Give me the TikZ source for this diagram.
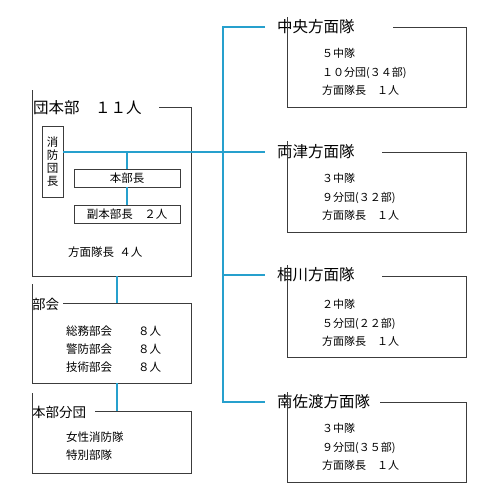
\documentclass[tikz,border=0pt]{standalone}
\usepackage{fontspec}
\newfontfamily\jp{Noto Sans CJK JP}
\usetikzlibrary{calc}
\definecolor{lnblue}{RGB}{38,160,205}
\definecolor{lngray}{RGB}{60,60,60}
\begin{document}
\begin{tikzpicture}[x=1pt,y=-1pt,
  every node/.style={font=\jp, inner sep=0pt, text=black},
  frame/.style={draw=lngray, line width=0.8pt},
  area/.style={inner sep=0pt, outer sep=0pt, rectangle},
  conn/.style={draw=lnblue, line width=1.5pt},
  bigtitle/.style={font=\jp\fontsize{15.5}{16}\selectfont, anchor=west},
  midtitle/.style={font=\jp\fontsize{13.5}{14}\selectfont, anchor=west},
  items/.style={font=\jp\fontsize{11}{18.5}\selectfont, align=left, anchor=west},
  litems/.style={font=\jp\fontsize{11.5}{18}\selectfont, align=left, anchor=west},
  smallbox/.style={frame, font=\jp\fontsize{11.5}{13}\selectfont, align=center}
]
\useasboundingbox (0,0) rectangle (499,502);
\fill[white] (0,0) rectangle (499,502);

% ---------- left: 団本部 ----------
\node[area, minimum width=159pt, minimum height=169pt] (hq) at (111.5,191.5) {};
\node[bigtitle] (hqt) at (33,108) {団本部　１１人};
\draw[frame] ([xshift=127pt]hq.north west) -| (hq.south east) -| ([yshift=17pt]hq.north west);

\node[smallbox, minimum width=21pt, minimum height=71pt] (chief) at (52.5,161.5) {消\\防\\団\\長};
\node[smallbox, minimum width=106pt, minimum height=18pt] (hb1) at (127,178) {本部長};
\node[smallbox, minimum width=106pt, minimum height=18pt] (hb2) at (127,214) {副本部長　２人};
\node[litems] (hq4) at (68,252) {方面隊長\hspace{0.45em}４人};

\coordinate (j1) at (127,152);

% ---------- 部会 ----------
\node[area, minimum width=159pt, minimum height=80pt] (bk) at (111.5,343) {};
\node[midtitle] (bkt) at (32,304) {部会};
\draw[frame] ([xshift=31pt]bk.north west) -| (bk.south east) -| ([yshift=19pt]bk.north west);
\node[litems] (bkn) at (66,349) {総務部会\\警防部会\\技術部会};
\node[litems] (bkc) at (138,349) {８人\\８人\\８人};

% ---------- 本部分団 ----------
\node[area, minimum width=159pt, minimum height=62pt] (hbd) at (111.5,442) {};
\node[midtitle] (hbdt) at (32,412) {本部分団};
\draw[frame] ([xshift=63pt]hbd.north west) -| (hbd.south east) -| ([yshift=18pt]hbd.north west);
\node[litems] (hbdi) at (66,446) {女性消防隊\\特別部隊};

% ---------- right: 方面隊 ----------
\node[area, minimum width=179pt, minimum height=80pt] (c1) at (376.5,67) {};
\node[bigtitle] (t1) at (277,27) {中央方面隊};
\draw[frame] ([xshift=106pt]c1.north west) -| (c1.south east) -| ([yshift=10pt]c1.north west);
\node[items] (i1) at (322,72) {５中隊\\１０分団(３４部)\\方面隊長　１人};

\node[area, minimum width=179pt, minimum height=80pt] (c2) at (376.5,192) {};
\node[bigtitle] (t2) at (277,152) {両津方面隊};
\draw[frame] ([xshift=95pt]c2.north west) -| (c2.south east) -| ([yshift=11pt]c2.north west);
\node[items] (i2) at (322,197) {３中隊\\９分団(３２部)\\方面隊長　１人};

\node[area, minimum width=179pt, minimum height=81pt] (c3) at (376.5,316.5) {};
\node[bigtitle] (t3) at (277,275) {相川方面隊};
\draw[frame] ([xshift=95pt]c3.north west) -| (c3.south east) -| ([yshift=11pt]c3.north west);
\node[items] (i3) at (322,323) {２中隊\\５分団(２２部)\\方面隊長　１人};

\node[area, minimum width=179pt, minimum height=80pt] (c4) at (376.5,442) {};
\node[bigtitle] (t4) at (277,402) {南佐渡方面隊};
\draw[frame] ([xshift=93pt]c4.north west) -| (c4.south east) -| ([yshift=10pt]c4.north west);
\node[items] (i4) at (322,447) {３中隊\\９分団(３５部)\\方面隊長　１人};

% ---------- connectors ----------
\coordinate (sp) at (223,0);
\draw[conn] ([xshift=-12pt]t1.west) -- (t1.west -| sp) -- (t4.west -| sp) -- ([xshift=-12pt]t4.west);
\draw[conn] (t3.west -| sp) -- ([xshift=-12pt]t3.west);
\draw[conn] (chief.east |- j1) -- ([xshift=-12pt]t2.west);
\draw[conn] (j1) -- (hb1.north);
\draw[conn] (hb1.south) -- (hb2.north);
\draw[conn] ([xshift=5.5pt]hq.south) -- ([xshift=5.5pt]bk.north);
\draw[conn] ([xshift=5.5pt]bk.south) -- ([xshift=5.5pt]hbd.north);
\end{tikzpicture}
\end{document}
